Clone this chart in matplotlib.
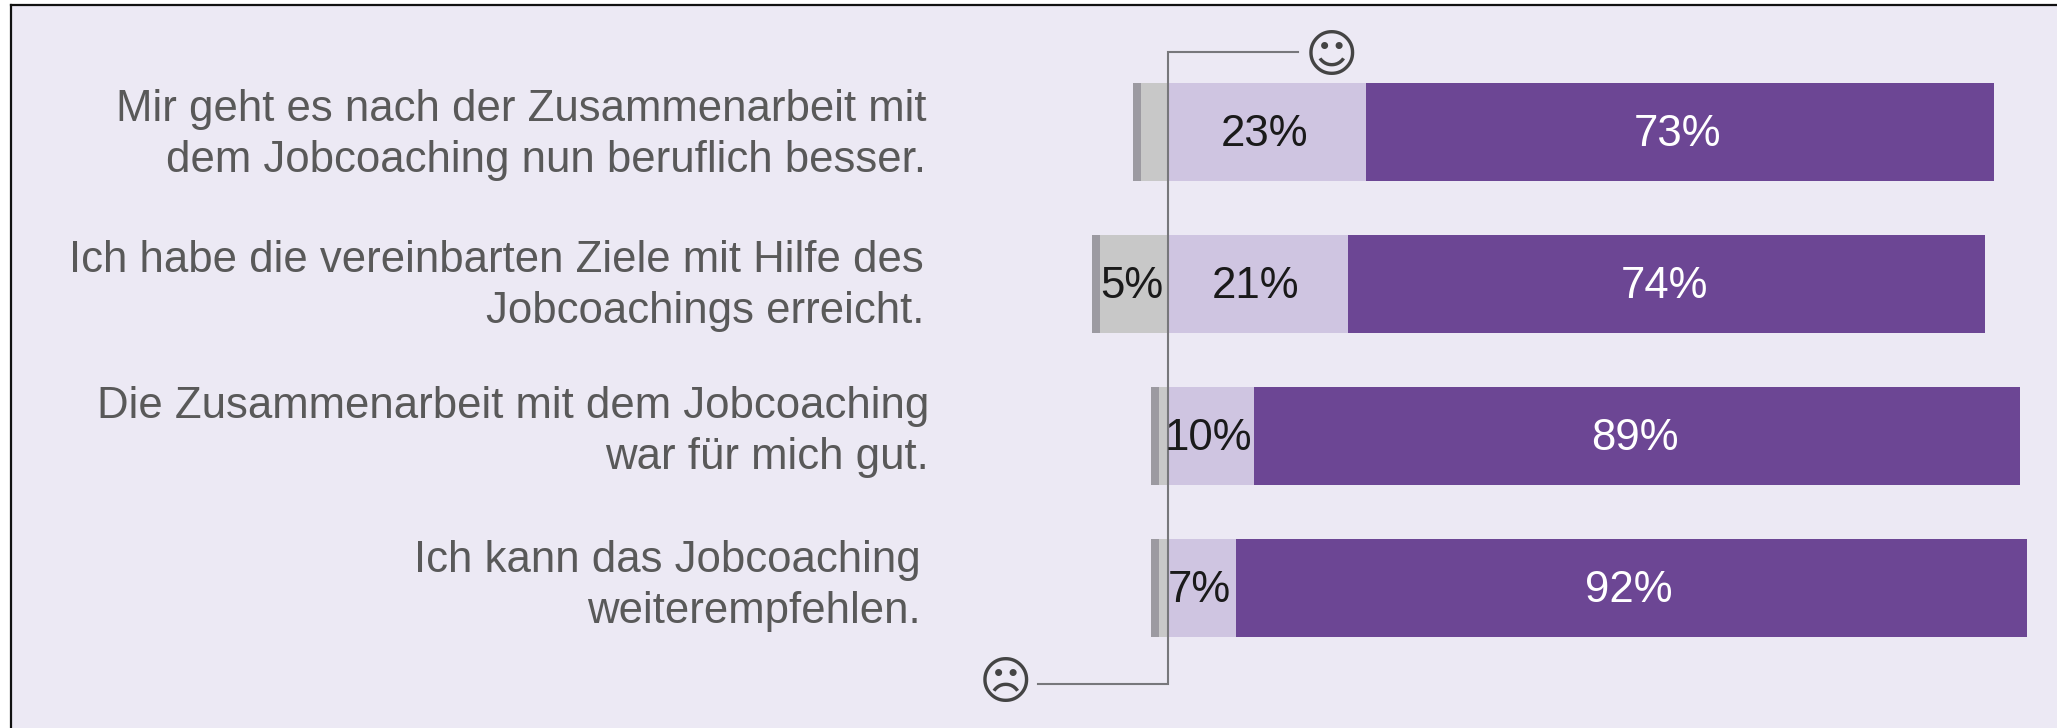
import numpy as np
import matplotlib
matplotlib.use("Agg")
import matplotlib.pyplot as plt

W, H = 2057, 728

# rows, top to bottom
labels = ["Mir geht es nach der Zusammenarbeit mit\ndem Jobcoaching nun beruflich besser.",
          "Ich habe die vereinbarten Ziele mit Hilfe des\nJobcoachings erreicht.",
          "Die Zusammenarbeit mit dem Jobcoaching\nwar für mich gut.",
          "Ich kann das Jobcoaching\nweiterempfehlen."]

# bar lengths (in % units, the grey side is drawn wider than its label)
dark_grey = [0.95, 0.95, 0.95, 0.95]
grey = [3.2, 8.0, 1.1, 1.1]
light = [23.0, 20.9, 9.95, 7.85]
dark = [73.1, 74.2, 89.2, 92.1]

# printed labels
grey_txt = ["", "5%", "", ""]
light_txt = ["23%", "21%", "10%", "7%"]
dark_txt = ["73%", "74%", "89%", "92%"]

label_right = [926, 924, 929, 921]
label_mid = [135, 286, 432, 586]

bg = "#ECE9F4"
c_dgrey = "#9C9AA1"
c_grey = "#C8C8C8"
c_light = "#CFC5E1"
c_dark = "#6C4694"
c_line = "#77777B"
c_text = "#595959"

plt.rcParams['font.family'] = ['Liberation Sans', 'DejaVu Sans']

fig = plt.figure(figsize=(W/100., H/100.), dpi=100, facecolor="white")
left_px, top_px = 11, 5
ax = fig.add_axes([left_px/W, 0, (W-left_px)/W, (H-top_px)/H], facecolor=bg)

# 8.59 px per percent, zero at x=1168.5, rows 152 px apart starting at y=132
zero_px = 1168.5
px_pct = 8.59
ax.set_xlim((left_px-zero_px)/px_pct, (W-zero_px)/px_pct)
ax.set_ylim((H-132)/152., (top_px-132)/152.)

y = np.arange(len(labels))
grey = np.array(grey)
dark_grey = np.array(dark_grey)
light = np.array(light)
dark = np.array(dark)

h = 0.645
ax.barh(y, dark_grey, left=-grey-dark_grey, height=h, color=c_dgrey)
ax.barh(y, grey, left=-grey, height=h, color=c_grey)
ax.barh(y, light, height=h, color=c_light)
ax.barh(y, dark, left=light, height=h, color=c_dark)

dx = -0.3   # labels sit a bit left of the middle of their segment
dy = 0.016
for i in y:
    ax.text(-grey[i]/2+dx, i+dy, grey_txt[i], ha="center", va="center", fontsize=31.5, color="#1a1a1a")
    ax.text(light[i]/2+dx, i+dy, light_txt[i], ha="center", va="center", fontsize=31.5, color="#1a1a1a")
    ax.text(light[i]+dark[i]/2+dx, i+dy, dark_txt[i], ha="center", va="center", fontsize=31.5, color="white")
    fig.text(label_right[i]/W, 1-label_mid[i]/H, labels[i], ha="right", va="center",
             fontsize=31.5, color=c_text, linespacing=1.29, multialignment="right")

ax.set_xticks([])
ax.set_yticks([])
for s in ["right", "bottom"]:
    ax.spines[s].set_visible(False)
for s in ["left", "top"]:
    ax.spines[s].set_linewidth(1.6)
    ax.spines[s].set_color("#111111")

def fx(px):
    return (px-zero_px)/px_pct

def fy(px):
    return (px-132)/152.

# bracket with the smileys
ax.plot([fx(1298), 0, 0, fx(1038)], [fy(52), fy(52), fy(684), fy(684)], color=c_line, lw=1.5, solid_joinstyle="miter")
ax.text(fx(1332), fy(57), "\u263A", family="DejaVu Sans", fontsize=37, color="#444444", ha="center", va="center")
ax.text(fx(1006), fy(684), "\u2639", family="DejaVu Sans", fontsize=37, color="#444444", ha="center", va="center")

fig.savefig("out.png", dpi=100, facecolor=fig.get_facecolor())
